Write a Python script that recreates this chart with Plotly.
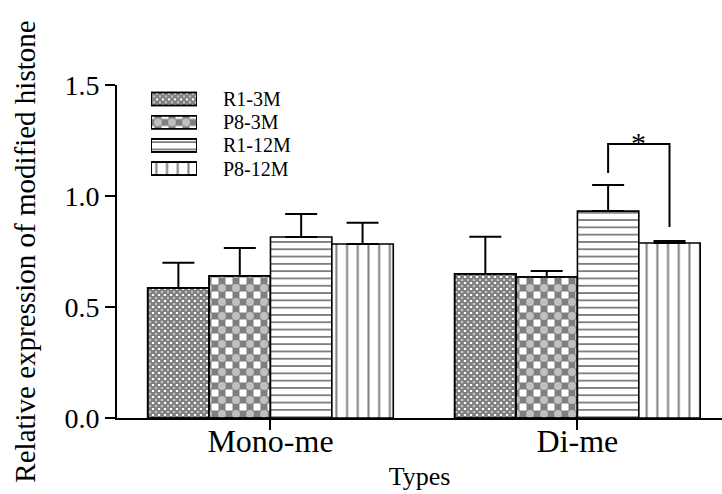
import plotly.graph_objects as go

categories = ["Mono-me", "Di-me"]
series = ["R1-3M", "P8-3M", "R1-12M", "P8-12M"]
means = {
    "R1-3M": [0.586, 0.649],
    "P8-3M": [0.640, 0.635],
    "R1-12M": [0.815, 0.932],
    "P8-12M": [0.784, 0.788],
}
errors = {
    "R1-3M": [0.113, 0.167],
    "P8-3M": [0.126, 0.027],
    "R1-12M": [0.104, 0.117],
    "P8-12M": [0.095, 0.009],
}
y_ticks = [0.0, 0.5, 1.0, 1.5]
sig_pair = ("R1-12M", "P8-12M")
sig_category = "Di-me"
sig_label = "*"

FONT = "Liberation Serif"
BAR_W = 0.2
# pattern: (shape, size, solidity, white centre dot solidity or None)
patterns = {
    "R1-3M": ("+", 6, 0.86, 0.16),
    "P8-3M": ("+", 14, 0.75, 0.25),
    "R1-12M": ("-", 7.3, 0.25, None),
    "P8-12M": ("|", 10.7, 0.19, None),
}

fig = go.Figure()
xs = list(range(len(categories)))
for i, s in enumerate(series):
    shape, size, sol, dot = patterns[s]
    off = -2 * BAR_W + i * BAR_W
    fig.add_trace(go.Bar(
        x=xs, y=means[s], name=s, width=BAR_W, offset=off,
        marker=dict(color="white", line=dict(color="black", width=1.6),
                    pattern=dict(shape=shape, size=size, solidity=sol,
                                 fgcolor="black", bgcolor="white")),
        error_y=dict(type="data", symmetric=False, array=errors[s],
                     arrayminus=[0] * len(categories), color="black",
                     thickness=2, width=16),
        showlegend=False,
    ))
    if dot is not None:
        fig.add_trace(go.Bar(
            x=xs, y=means[s], width=BAR_W, offset=off,
            marker=dict(color="rgba(0,0,0,0)", line=dict(color="black", width=1.6),
                        pattern=dict(shape=".", size=size, solidity=dot,
                                     fgcolor="white", bgcolor="rgba(0,0,0,0)")),
            showlegend=False, hoverinfo="skip",
        ))

# legend key built as a tiny horizontal bar chart on its own axes
shapes_l = [patterns[s][0] for s in series]
sizes_l = [patterns[s][1] for s in series]
sols_l = [patterns[s][2] for s in series]
fig.add_trace(go.Bar(
    y=series, x=[1] * len(series), orientation="h", width=0.56,
    xaxis="x2", yaxis="y2",
    marker=dict(color="white", line=dict(color="black", width=1.6),
                pattern=dict(shape=shapes_l, size=sizes_l, solidity=sols_l,
                             fgcolor="black", bgcolor="white")),
    showlegend=False, hoverinfo="skip",
))
fig.add_trace(go.Bar(
    y=series, x=[1] * len(series), orientation="h", width=0.56,
    xaxis="x2", yaxis="y2",
    marker=dict(color="rgba(0,0,0,0)", line=dict(color="black", width=1.6),
                pattern=dict(shape=["." if patterns[s][3] else "" for s in series],
                             size=sizes_l,
                             solidity=[patterns[s][3] or 0.2 for s in series],
                             fgcolor="white", bgcolor="rgba(0,0,0,0)")),
    showlegend=False, hoverinfo="skip",
))

# significance bracket
ci = categories.index(sig_category)
xa = ci - 2 * BAR_W + series.index(sig_pair[0]) * BAR_W + BAR_W / 2
xb = ci - 2 * BAR_W + series.index(sig_pair[1]) * BAR_W + BAR_W / 2
top_a = means[sig_pair[0]][ci] + errors[sig_pair[0]][ci]
top_b = means[sig_pair[1]][ci] + errors[sig_pair[1]][ci]
y_br = top_a + 0.185
fig.add_shape(type="path",
              path=f"M {xa},{top_a + 0.055} L {xa},{y_br} L {xb},{y_br} L {xb},{top_b + 0.063}",
              xref="x", yref="y", line=dict(color="black", width=2))
fig.add_annotation(x=(xa + xb) / 2, y=y_br, text=sig_label, showarrow=False,
                   xref="x", yref="y", yanchor="bottom", yshift=-17,
                   font=dict(family=FONT, size=30, color="black"))

fig.update_layout(
    width=722, height=494,
    margin=dict(l=117, r=0, t=85, b=76),
    paper_bgcolor="white", plot_bgcolor="white",
    barmode="overlay",
    showlegend=False,
    font=dict(family=FONT, color="black"),
    xaxis=dict(range=[-0.5, 1.471], tickvals=xs, ticktext=categories,
               showline=True, linecolor="black", linewidth=2,
               ticks="outside", ticklen=10, tickwidth=2, tickcolor="black",
               showgrid=False, zeroline=False, automargin=False,
               ticklabelstandoff=-16,
               tickfont=dict(family=FONT, size=32, color="black"),
               title=dict(text="Types", font=dict(family=FONT, size=26, color="black"),
                          standoff=8)),
    yaxis=dict(range=[0, 1.5], tickvals=y_ticks, tickformat=".1f",
               showline=True, linecolor="black", linewidth=2,
               ticks="outside", ticklen=10, tickwidth=2, tickcolor="black",
               showgrid=False, zeroline=False, automargin=False,
               tickfont=dict(family=FONT, size=28, color="black"),
               title=dict(text="Relative expression of modified histone",
                          font=dict(family=FONT, size=29, color="black"), standoff=20)),
    xaxis2=dict(domain=[0.0562, 0.1322], range=[0, 1], anchor="y2", visible=False,
                fixedrange=True),
    yaxis2=dict(domain=[0.7141, 0.9928], anchor="x2", type="category",
                autorange="reversed", side="right", showline=False, ticks="",
                tickmode="array", tickvals=series, ticktext=series,
                showgrid=False, zeroline=False, ticklabelstandoff=25,
                tickfont=dict(family=FONT, size=20, color="black")),
)

fig.write_html("out.html")
